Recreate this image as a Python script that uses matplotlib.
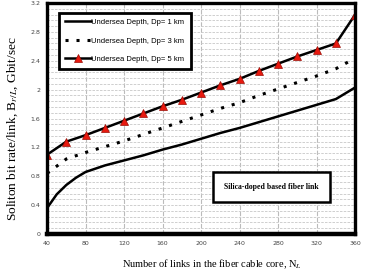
import matplotlib.pyplot as plt
import numpy as np

# date
x_d1 = [40, 50, 60, 70, 80, 100, 120, 140, 160, 180, 200, 220, 240, 260, 280, 300, 320, 340, 360]
y_d1 = [0.36, 0.55, 0.68, 0.78, 0.86, 0.95, 1.02, 1.09, 1.17, 1.24, 1.32, 1.40, 1.47, 1.55, 1.63, 1.71, 1.79, 1.87, 2.03]

x_d3 = [40, 60, 80, 100, 120, 140, 160, 180, 200, 220, 240, 260, 280, 300, 320, 340, 355]
y_d3 = [0.84, 1.04, 1.13, 1.21, 1.29, 1.38, 1.47, 1.56, 1.65, 1.74, 1.82, 1.92, 2.01, 2.10, 2.19, 2.29, 2.40]

x_d5 = [40, 60, 80, 100, 120, 140, 160, 180, 200, 220, 240, 260, 280, 300, 320, 340, 360]
y_d5 = [1.10, 1.28, 1.37, 1.47, 1.57, 1.67, 1.77, 1.86, 1.96, 2.06, 2.15, 2.26, 2.36, 2.46, 2.55, 2.64, 3.04]

etichete = ["Undersea Depth, Dp= 1 km", "Undersea Depth, Dp= 3 km", "Undersea Depth, Dp= 5 km"]
x_ticks = [40, 80, 120, 160, 200, 240, 280, 320, 360]
y_ticks = [0, 0.4, 0.8, 1.2, 1.6, 2, 2.4, 2.8, 3.2]

plt.rcParams['mathtext.fontset'] = 'stix'

fig = plt.figure(figsize=(3.65, 2.76), dpi=100)
ax = fig.add_axes([0.129, 0.152, 0.844, 0.837])

ax.plot(x_d1, y_d1, color="black", linewidth=1.8, label=etichete[0])
ax.plot(x_d3, y_d3, color="black", linewidth=2.2, linestyle=(0, (1.0, 2.6)), label=etichete[1])
ax.plot(x_d5, y_d5, color="black", linewidth=1.8, marker="^", markersize=5.5,
        markerfacecolor="#e8190f", markeredgecolor="#9a0d06", markeredgewidth=0.5, label=etichete[2])

ax.set_xlim(40, 360)
ax.set_ylim(0, 3.2)
ax.set_xticks(x_ticks)
ax.set_yticks(y_ticks)
ax.set_xticklabels([str(v) for v in x_ticks])
ax.set_yticklabels([f"{v:g}" for v in y_ticks])
ax.tick_params(axis='both', length=0, labelsize=4.5, labelcolor="#444444", pad=5)

ax.set_xticks(np.arange(40, 361, 8), minor=True)
ax.set_yticks(np.arange(0, 3.21, 0.08), minor=True)
ax.tick_params(which='minor', length=0)
ax.grid(True, which='major', axis='x', color="#bbbbbb", linewidth=0.8, linestyle=(0, (4, 1.5)))
ax.grid(True, which='minor', axis='y', color="#c8c8c8", linewidth=0.6, linestyle=(0, (3, 1.5)))
ax.grid(True, which='major', axis='y', color="#c8c8c8", linewidth=0.6, linestyle=(0, (3, 1.5)))
ax.set_axisbelow(True)

for s in ax.spines.values():
    s.set_linewidth(2.4)
ax.spines['bottom'].set_linewidth(3.2)

leg = ax.legend(loc='upper left', bbox_to_anchor=(0.025, 0.975), fancybox=False, framealpha=1,
                edgecolor="black", handlelength=3.4, handletextpad=0.1, borderpad=0.8,
                labelspacing=1.45, prop={'family': 'Liberation Sans', 'size': 5.5})
leg.get_frame().set_linewidth(2.0)

ax.text(0.729, 0.205, "Silica-doped based fiber link", transform=ax.transAxes, ha='center', va='center',
        family='Liberation Serif', fontweight='bold', fontsize=5.6,
        bbox=dict(boxstyle='square,pad=1.4', facecolor='white', edgecolor='black', linewidth=1.8))

ax.set_xlabel(r"Number of links in the fiber cable core, N$_L$", family='Liberation Serif', fontsize=7.5)
ax.xaxis.set_label_coords(0.535, -0.1)
ax.set_ylabel(r"Soliton bit rate/link, B$_{r/L}$, Gbit/sec", family='Liberation Serif', fontsize=9.6)
ax.yaxis.set_label_coords(-0.087, 0.457)

fig.savefig("out.png", dpi=100)
